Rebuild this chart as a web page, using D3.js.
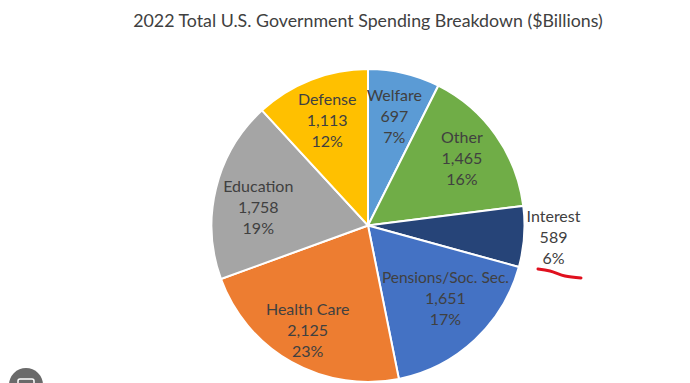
<!DOCTYPE html>
<html>
<head>
<meta charset="utf-8">
<script src="https://cdn.jsdelivr.net/npm/d3@7"></script>
<style>
html,body{margin:0;padding:0;background:#fff;}
svg{display:block;}
text{font-family:Lato,"Open Sans",sans-serif;fill:#404040;}
</style>
</head>
<body>
<script>
var categories=["Welfare","Other","Interest","Pensions/Soc. Sec.","Health Care","Education","Defense"];
var spending=[697,1465,589,1651,2125,1758,1113];
var percents=[7,16,6,17,23,19,12];
var colors=["#5B9BD5","#70AD47","#264478","#4472C4","#ED7D31","#A5A5A5","#FFC000"];
var chartTitle="2022 Total U.S. Government Spending Breakdown ($Billions)";

var width=690,height=383;
var cx=368,cy=225.5,radius=156.5;
var lineh=21;

//label layout, office moves some labels away from the centroid
var labelRadius=[114,115,186,115,115,115,115];
var labelDx=[0,0,0,-1,-4,2,1];
var labelDy=[1,-1,-2,-12,4,9,2];

var svg=d3.select("body").append("svg").attr("width",width).attr("height",height);

svg.append("text")
    .attr("x",368).attr("y",27)
    .attr("text-anchor","middle")
    .style("font-size","17.8px")
    .text(chartTitle);

var arcs=d3.pie().sort(null)(spending);
var arc=d3.arc().innerRadius(0).outerRadius(radius);

var chart=svg.append("g").attr("transform","translate("+cx+","+cy+")");

chart.selectAll("path.slice").data(arcs).enter().append("path")
    .attr("class","slice")
    .attr("d",arc)
    .attr("fill",function(d,i){return colors[i];})
    .attr("stroke","#fff")
    .attr("stroke-width",2);

var labels=chart.selectAll("g.label").data(arcs).enter().append("g")
    .attr("class","label")
    .attr("transform",function(d,i){
        var mid=(d.startAngle+d.endAngle)/2;
        var x=Math.sin(mid)*labelRadius[i]+labelDx[i];
        var y=-Math.cos(mid)*labelRadius[i]+labelDy[i];
        return "translate("+x+","+y+")";
    });

labels.each(function(d,i){
    var g=d3.select(this);
    var rows=[categories[i],d3.format(",")(spending[i]),percents[i]+"%"];
    rows.forEach(function(r,k){
        g.append("text")
            .attr("text-anchor","middle")
            .attr("y",(k-1)*lineh+6)
            .style("font-size",r.length>12?"15.5px":"16px")
            .text(r);
    });
});

//red underline drawn by hand on the screenshot
var scribble=[[538,269],[550,271],[565,276],[581,278]];
svg.append("path")
    .attr("d",d3.line().curve(d3.curveCatmullRom)(scribble))
    .attr("fill","none")
    .attr("stroke","#E0101E")
    .attr("stroke-width",3)
    .attr("stroke-linecap","round");

//round button cut by the bottom edge of the screenshot
svg.append("circle").attr("cx",26).attr("cy",385).attr("r",17).attr("fill","#6a6a6a");
svg.append("rect").attr("x",18).attr("y",379).attr("width",16).attr("height",8).attr("rx",2)
    .attr("fill","none").attr("stroke","#fff").attr("stroke-width",1.5);
</script>
</body>
</html>
